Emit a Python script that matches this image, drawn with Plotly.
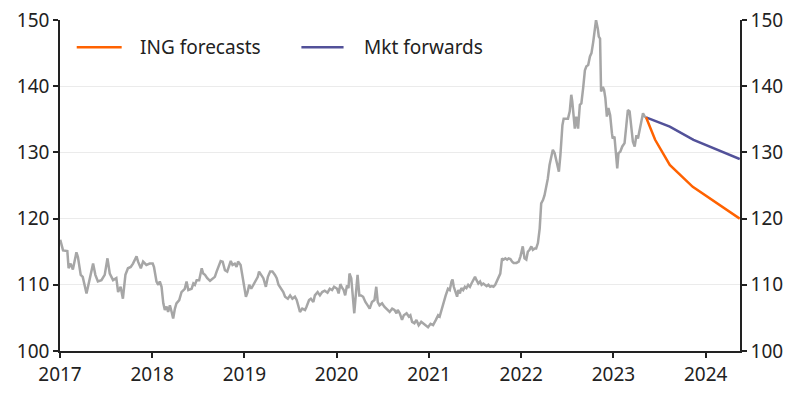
import plotly.graph_objects as go

# ---------------- data ----------------
hist_dates = [
    "2017-01-02","2017-01-13","2017-01-30","2017-02-04","2017-02-12","2017-02-21","2017-03-07","2017-03-13",
    "2017-03-24","2017-04-01","2017-04-16","2017-04-22","2017-05-12","2017-05-21","2017-05-31","2017-06-14",
    "2017-06-27","2017-07-08","2017-07-17","2017-07-30","2017-08-12","2017-08-19","2017-08-29","2017-09-07",
    "2017-09-17","2017-09-27","2017-10-08","2017-10-17","2017-10-24","2017-10-31","2017-11-06","2017-11-17",
    "2017-11-26","2017-12-09","2017-12-22",
    "2018-01-03","2018-01-08","2018-01-18","2018-01-25","2018-01-31","2018-02-07","2018-02-14","2018-02-20",
    "2018-02-27","2018-03-05","2018-03-12","2018-03-19","2018-03-25","2018-04-01","2018-04-07","2018-04-18",
    "2018-04-27","2018-05-10","2018-05-17","2018-05-24","2018-06-06","2018-06-13","2018-06-19","2018-06-26",
    "2018-07-06","2018-07-16","2018-07-22","2018-07-29","2018-08-07","2018-08-18","2018-08-28","2018-09-06",
    "2018-09-13","2018-09-19","2018-09-29","2018-10-07","2018-10-16","2018-10-25","2018-11-02","2018-11-08",
    "2018-11-15","2018-11-24","2018-12-01","2018-12-07","2018-12-17","2018-12-25","2018-12-31",
    "2019-01-07","2019-01-13","2019-01-20","2019-01-28","2019-02-06","2019-02-15","2019-02-23","2019-02-28",
    "2019-03-08","2019-03-17","2019-03-27","2019-04-04","2019-04-13","2019-04-22","2019-05-02","2019-05-09",
    "2019-05-16","2019-05-26","2019-06-04","2019-06-11","2019-06-22","2019-07-01","2019-07-10","2019-07-20",
    "2019-07-27","2019-08-02","2019-08-09","2019-08-18","2019-08-29","2019-09-04","2019-09-14","2019-09-21",
    "2019-10-01","2019-10-07","2019-10-18","2019-10-27","2019-11-05","2019-11-15","2019-11-26","2019-12-05",
    "2019-12-14","2019-12-22",
    "2020-01-03","2020-01-09","2020-01-16","2020-01-22","2020-01-29","2020-02-04","2020-02-11","2020-02-17",
    "2020-02-21","2020-02-28","2020-03-06","2020-03-11","2020-03-18","2020-03-24","2020-03-31","2020-04-07",
    "2020-04-15","2020-04-24","2020-05-03","2020-05-11","2020-05-20","2020-05-30","2020-06-06","2020-06-12",
    "2020-06-19","2020-06-29","2020-07-08","2020-07-19","2020-07-29","2020-08-08","2020-08-17","2020-08-25",
    "2020-08-30","2020-09-07","2020-09-16","2020-09-23","2020-10-04","2020-10-13","2020-10-19","2020-10-26",
    "2020-11-04","2020-11-12","2020-11-21","2020-12-01","2020-12-11","2020-12-22","2020-12-28",
    "2021-01-07","2021-01-17","2021-01-28","2021-02-06","2021-02-12","2021-02-19","2021-02-25","2021-03-08",
    "2021-03-17","2021-03-24","2021-03-31","2021-04-04","2021-04-09","2021-04-17","2021-04-22","2021-04-27",
    "2021-05-03","2021-05-09","2021-05-16","2021-05-23","2021-05-29","2021-06-05","2021-06-12","2021-06-18",
    "2021-06-25","2021-07-02","2021-07-08","2021-07-15","2021-07-22","2021-07-28","2021-08-04","2021-08-11",
    "2021-08-17","2021-08-24","2021-08-31","2021-09-06","2021-09-13","2021-09-20","2021-09-26","2021-10-03",
    "2021-10-10","2021-10-17","2021-10-23","2021-10-30","2021-11-06","2021-11-12","2021-11-19","2021-11-26",
    "2021-12-02","2021-12-13","2021-12-22","2021-12-29",
    "2022-01-01","2022-01-07","2022-01-14","2022-01-21","2022-01-27","2022-02-03","2022-02-10","2022-02-16",
    "2022-02-23","2022-03-01","2022-03-08","2022-03-15","2022-03-21","2022-03-28","2022-04-03","2022-04-10",
    "2022-04-16","2022-04-23","2022-04-30","2022-05-06","2022-05-13","2022-05-20","2022-05-30","2022-06-05",
    "2022-06-13","2022-06-18","2022-06-26","2022-07-05","2022-07-12","2022-07-18","2022-07-22","2022-07-28",
    "2022-08-01","2022-08-07","2022-08-14","2022-08-21","2022-08-27","2022-09-03","2022-09-10","2022-09-16",
    "2022-09-23","2022-09-30","2022-10-06","2022-10-13","2022-10-20","2022-10-24","2022-10-31","2022-11-04",
    "2022-11-09","2022-11-13","2022-11-20","2022-11-25","2022-11-30","2022-12-06","2022-12-12","2022-12-19",
    "2022-12-26","2022-12-29",
    "2023-01-05","2023-01-12","2023-01-16","2023-01-21","2023-01-28","2023-02-05","2023-02-14","2023-02-21",
    "2023-02-27","2023-03-06","2023-03-13","2023-03-19","2023-03-26","2023-04-02","2023-04-08","2023-04-15",
    "2023-04-22","2023-04-28","2023-05-05","2023-05-10",
]
hist_values = [
    116.8,115.2,115.1,112.5,113.2,112.3,114.9,114.2,
    111.5,111.2,108.7,109.7,113.2,111.5,110.5,110.7,
    111.5,114.0,111.7,110.7,111.0,108.9,109.7,107.9,
    111.5,112.5,112.7,113.2,113.7,114.3,113.5,112.5,
    113.5,113.0,113.2,
    113.2,112.7,110.5,110.0,110.5,109.7,107.2,106.2,
    106.7,105.9,106.9,105.9,104.9,106.4,107.2,107.7,
    108.9,109.4,110.5,109.2,109.4,110.2,110.0,110.7,
    110.7,112.5,111.7,111.5,111.0,110.6,111.0,111.2,
    112.0,112.5,113.6,113.5,112.2,112.0,113.0,113.6,
    113.0,113.2,112.7,113.5,113.0,111.0,110.0,
    108.2,108.8,110.0,109.4,110.0,110.7,111.2,112.0,
    111.5,111.0,109.7,111.2,112.0,112.0,111.5,111.0,
    110.0,109.4,108.9,108.2,107.9,108.4,107.9,108.2,
    107.7,106.9,105.9,106.4,106.2,106.7,107.7,107.9,
    107.4,108.4,108.9,108.4,108.9,109.1,108.8,109.4,
    109.2,109.7,
    109.4,108.7,110.1,109.6,109.2,108.4,109.9,109.5,
    111.7,111.0,107.4,105.7,108.9,111.5,108.4,108.4,
    108.2,107.4,106.9,106.4,107.4,107.7,109.7,107.4,
    106.9,107.2,106.7,106.2,105.9,106.4,106.2,105.7,
    106.2,105.7,104.7,105.4,105.7,105.2,105.4,104.4,
    104.2,104.7,103.9,104.4,104.1,103.8,103.6,
    104.1,103.9,104.7,105.4,105.2,106.2,106.9,108.4,
    109.4,109.2,110.5,110.8,109.7,108.7,108.2,109.2,
    108.7,109.5,109.2,109.7,109.5,110.0,109.7,110.2,
    110.7,111.2,110.7,110.2,110.5,110.0,110.2,110.0,
    109.8,110.0,109.7,109.8,109.7,110.0,110.5,111.0,
    111.7,114.0,113.8,114.0,113.8,114.0,113.9,113.5,
    113.3,113.3,113.5,114.3,
    115.0,115.8,114.0,113.8,115.0,115.3,115.8,115.3,
    115.5,115.5,116.3,118.5,122.3,122.8,123.5,124.7,
    126.0,128.1,129.6,130.4,129.9,128.6,127.1,129.6,
    134.1,135.1,135.1,135.1,136.2,138.7,137.7,135.1,
    133.6,135.4,133.6,137.2,137.4,139.7,142.4,143.0,
    143.2,144.5,145.0,146.7,148.7,150.0,148.7,147.5,
    147.2,139.2,139.9,139.4,138.2,135.4,136.7,135.6,
    132.9,132.1,
    132.4,129.1,127.6,129.9,130.1,130.9,131.4,134.1,
    136.4,136.2,133.1,131.6,130.9,132.6,132.1,133.4,
    134.6,135.9,135.4,135.3,
]

ing_dates = ["2023-05-10", "2023-06-15", "2023-08-12", "2023-11-11", "2024-05-15"]
ing_values = [135.3, 131.9, 128.1, 124.8, 120.0]

mkt_dates = ["2023-05-10", "2023-06-15", "2023-08-12", "2023-11-14", "2024-05-15"]
mkt_values = [135.3, 134.8, 133.9, 131.9, 129.0]

y_ticks = [100, 110, 120, 130, 140, 150]
series_names = ["ING forecasts", "Mkt forwards"]

# ---------------- style ----------------
GREY = "#a6a6a6"
ORANGE = "#ff6200"
PURPLE = "#525199"
TEXT = "#222222"
FONT = "Noto Sans"

fig = go.Figure()
fig.add_trace(go.Scatter(x=hist_dates, y=hist_values, mode="lines",
                         line=dict(color=GREY, width=2.5), showlegend=False,
                         hoverinfo="x+y"))
fig.add_trace(go.Scatter(x=mkt_dates, y=mkt_values, mode="lines", name=series_names[1],
                         line=dict(color=PURPLE, width=2.5), showlegend=False))
fig.add_trace(go.Scatter(x=ing_dates, y=ing_values, mode="lines", name=series_names[0],
                         line=dict(color=ORANGE, width=2.5), showlegend=False))

axis_common = dict(
    showline=True, linecolor=TEXT, linewidth=1.5,
    ticks="outside", ticklen=5, tickwidth=1.5, tickcolor=TEXT,
    tickfont=dict(family=FONT, size=19, color=TEXT),
    zeroline=False, automargin=False,
)

fig.update_layout(
    width=800, height=397,
    margin=dict(l=60, r=60, t=20, b=46),
    paper_bgcolor="white", plot_bgcolor="white",
    font=dict(family=FONT, size=19, color=TEXT),
    xaxis=dict(
        type="date", range=["2017-01-01", "2024-05-16"],
        tick0="2017-01-01", dtick="M12", tickformat="%Y",
        showgrid=False, **axis_common,
    ),
    yaxis=dict(
        range=[100, 150], tickvals=y_ticks,
        showgrid=True, gridcolor="#ebebeb", gridwidth=1,
        **axis_common,
    ),
    yaxis2=dict(
        range=[100, 150], tickvals=y_ticks, overlaying="y", side="right",
        showgrid=False, **axis_common,
    ),
)

# invisible trace to anchor the right axis
fig.add_trace(go.Scatter(x=mkt_dates[:1], y=mkt_values[:1], yaxis="y2", mode="lines",
                         line=dict(width=0), showlegend=False, hoverinfo="skip"))

# custom legend (longer line samples, as in the reference)
legend_items = [
    (series_names[0], ORANGE, 0.0246, 0.0907, 0.1143),
    (series_names[1], PURPLE, 0.355, 0.417, 0.4435),
]
for name, color, x0, x1, xt in legend_items:
    fig.add_shape(type="line", xref="paper", yref="paper", x0=x0, x1=x1, y0=0.918, y1=0.918,
                  line=dict(color=color, width=2.5))
    fig.add_annotation(xref="paper", yref="paper", x=xt, y=0.918, text=name, showarrow=False,
                       xanchor="left", yanchor="middle",
                       font=dict(family=FONT, size=19, color=TEXT))

fig.write_html("out.html", config={"displayModeBar": False},
               post_script="document.body.style.margin='0px';")
